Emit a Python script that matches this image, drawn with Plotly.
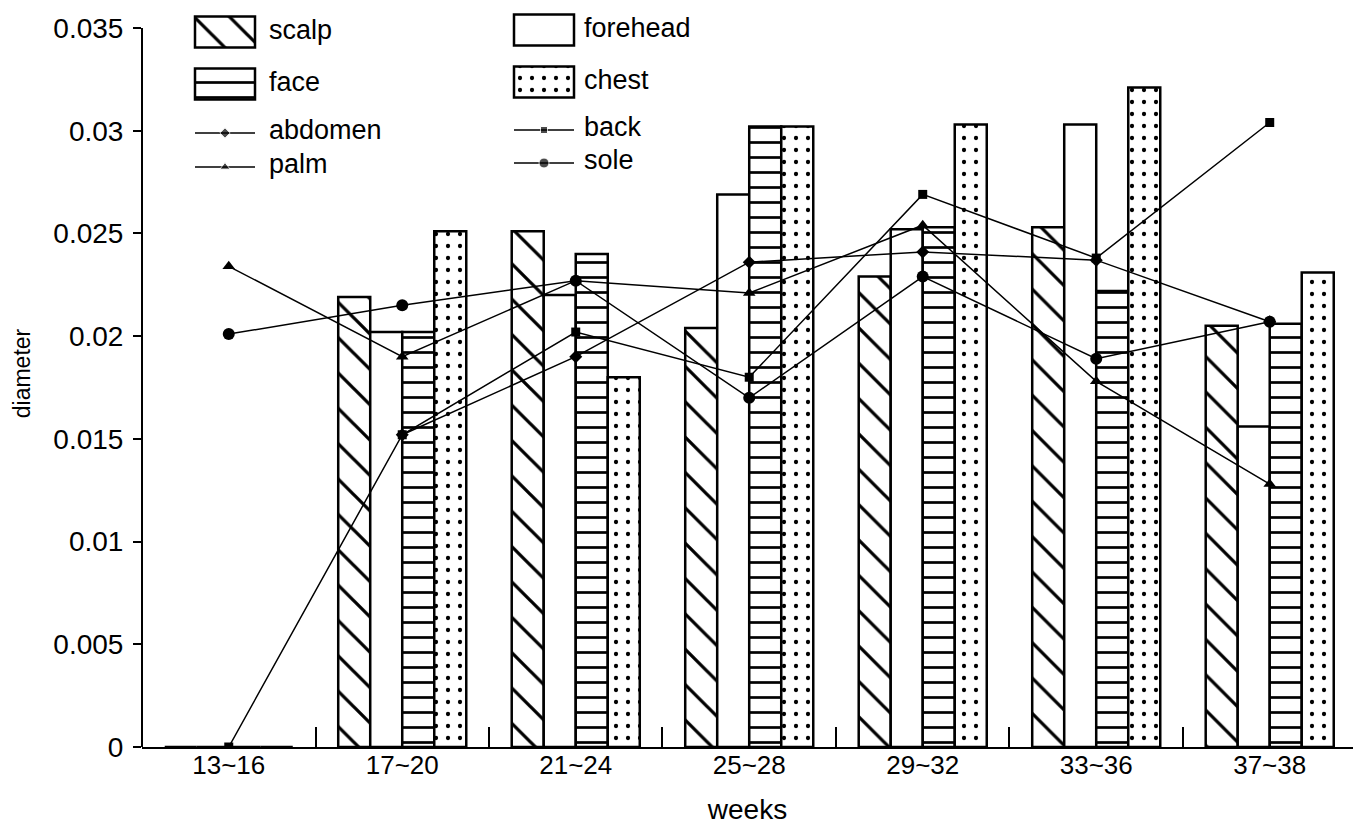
import plotly.graph_objects as go

# ---------------- data ----------------
categories = ["13~16", "17~20", "21~24", "25~28", "29~32", "33~36", "37~38"]

scalp    = [0, 0.0219, 0.0251, 0.0204, 0.0229, 0.0253, 0.0205]
forehead = [0, 0.0202, 0.0220, 0.0269, 0.0252, 0.0303, 0.0156]
face     = [0, 0.0202, 0.0240, 0.0302, 0.0253, 0.0222, 0.0206]
chest    = [0, 0.0251, 0.0180, 0.0302, 0.0303, 0.0321, 0.0231]

abdomen = [None, 0.0152, 0.0190, 0.0236, 0.0241, 0.0237, 0.0207]
back    = [0, 0.0152, 0.0202, 0.0180, 0.0269, 0.0238, 0.0304]
palm    = [0.0234, 0.0190, 0.0227, 0.0221, 0.0254, 0.0178, 0.0128]
sole    = [0.0201, 0.0215, 0.0227, 0.0170, 0.0229, 0.0189, 0.0207]

y_tick_values = [0, 0.005, 0.01, 0.015, 0.02, 0.025, 0.03, 0.035]
y_tick_labels = ["0", "0.005", "0.01", "0.015", "0.02", "0.025", "0.03", "0.035"]
Y_MAX = 0.035

# ---------------- styles ----------------
FONT = "Liberation Sans, Arial, sans-serif"
W, H = 1353, 825
M_L, M_B = 142, 78
AXIS_TOP_PX = 28  # pixel row where the y axis (0.035) ends
plot_h = H - M_B
y_top = Y_MAX * plot_h / (plot_h - AXIS_TOP_PX)

patterns = {
    "scalp":    dict(shape="\\", size=25, solidity=0.13, fgcolor="black", bgcolor="white", fgopacity=1),
    "forehead": dict(shape="", fgcolor="black", bgcolor="white"),
    "face":     dict(shape="-", size=15, solidity=0.18, fgcolor="black", bgcolor="white", fgopacity=1),
    "chest":    dict(shape=".", size=12, solidity=0.1, fgcolor="black", bgcolor="white", fgopacity=1),
}
line_series = [
    ("abdomen", abdomen, "diamond", 10),
    ("back", back, "square", 9),
    ("palm", palm, "triangle-up", 11),
    ("sole", sole, "circle", 12),
]
bar_series = [("scalp", scalp), ("forehead", forehead), ("face", face), ("chest", chest)]

fig = go.Figure()

for name, vals in bar_series:
    fig.add_trace(go.Bar(
        x=categories, y=vals, name=name, showlegend=False,
        marker=dict(color="white", line=dict(color="black", width=2.5),
                    pattern=patterns[name]),
    ))

for name, vals, sym, sz in line_series:
    fig.add_trace(go.Scatter(
        x=categories, y=vals, name=name, mode="lines+markers", showlegend=False,
        line=dict(color="black", width=1.5),
        marker=dict(symbol=sym, size=sz, color="black"),
        connectgaps=False,
    ))

# ---------------- custom legend (pixel-coordinate overlay axes) ----------------
legend_bars = [  # name, box x0, text x, y-center (px)
    ("scalp", 195, 267, 32), ("forehead", 514, 582, 30),
    ("face", 195, 267, 84), ("chest", 514, 582, 82),
]
for name, x0, tx, yc in legend_bars:
    fig.add_trace(go.Bar(
        orientation="h", y=[yc], x=[60], base=[x0], width=[31],
        xaxis="x2", yaxis="y2", showlegend=False, hoverinfo="skip",
        marker=dict(color="white", line=dict(color="black", width=2.5),
                    pattern=patterns[name]),
    ))
    fig.add_annotation(x=tx, y=yc - 2, xref="x2", yref="y2", text=name,
                       showarrow=False, xanchor="left", yanchor="middle",
                       font=dict(family=FONT, size=27, color="black"))

legend_lines = [  # name, x0, text x, y (px)
    ("abdomen", 195, 267, 133), ("back", 514, 582, 130),
    ("palm", 195, 267, 167), ("sole", 514, 582, 163),
]
sym_map = {n: (s, z) for n, _, s, z in line_series}
for name, x0, tx, yc in legend_lines:
    s, z = sym_map[name]
    fig.add_trace(go.Scatter(
        x=[x0, x0 + 30, x0 + 60], y=[yc, yc, yc], xaxis="x2", yaxis="y2",
        mode="lines+markers", showlegend=False, hoverinfo="skip",
        line=dict(color="black", width=1.5),
        marker=dict(symbol=s, size=[0, z - 2, 0], color="black"),
    ))
    fig.add_annotation(x=tx, y=yc - 3, xref="x2", yref="y2", text=name,
                       showarrow=False, xanchor="left", yanchor="middle",
                       font=dict(family=FONT, size=27, color="black"))

# y axis line that stops at the top tick
fig.add_shape(type="line", xref="paper", yref="y", x0=0, x1=0, y0=0, y1=Y_MAX,
              line=dict(color="black", width=2))

fig.update_layout(
    width=W, height=H,
    margin=dict(l=M_L, r=0, t=0, b=M_B),
    paper_bgcolor="white", plot_bgcolor="rgba(0,0,0,0)",
    barmode="group", bargap=0.262, bargroupgap=0,
    font=dict(family=FONT, color="black"),
    xaxis=dict(
        type="category", range=[-0.5, 6.48],
        showline=True, linecolor="black", linewidth=2,
        ticks="inside", ticklen=20, tickwidth=1.5, tickcolor="black",
        tickson="boundaries", showgrid=False, zeroline=False,
        ticklabelstandoff=-6,
        tickfont=dict(family=FONT, size=26),
        title=dict(text="weeks", font=dict(family=FONT, size=28), standoff=20),
    ),
    yaxis=dict(
        range=[0, y_top], tickvals=y_tick_values, ticktext=y_tick_labels,
        showline=False,
        ticks="outside", ticklen=8, tickwidth=2, tickcolor="black",
        showgrid=False, zeroline=False,
        ticklabelstandoff=4,
        tickfont=dict(family=FONT, size=28),
        title=dict(text="diameter", font=dict(family=FONT, size=23), standoff=16),
    ),
    xaxis2=dict(overlaying="x", range=[M_L, W], visible=False, fixedrange=True),
    yaxis2=dict(overlaying="y", range=[plot_h, 0], visible=False, fixedrange=True),
)

fig.write_html("out.html", config={"displayModeBar": False},
               post_script="document.body.style.margin='0';")
